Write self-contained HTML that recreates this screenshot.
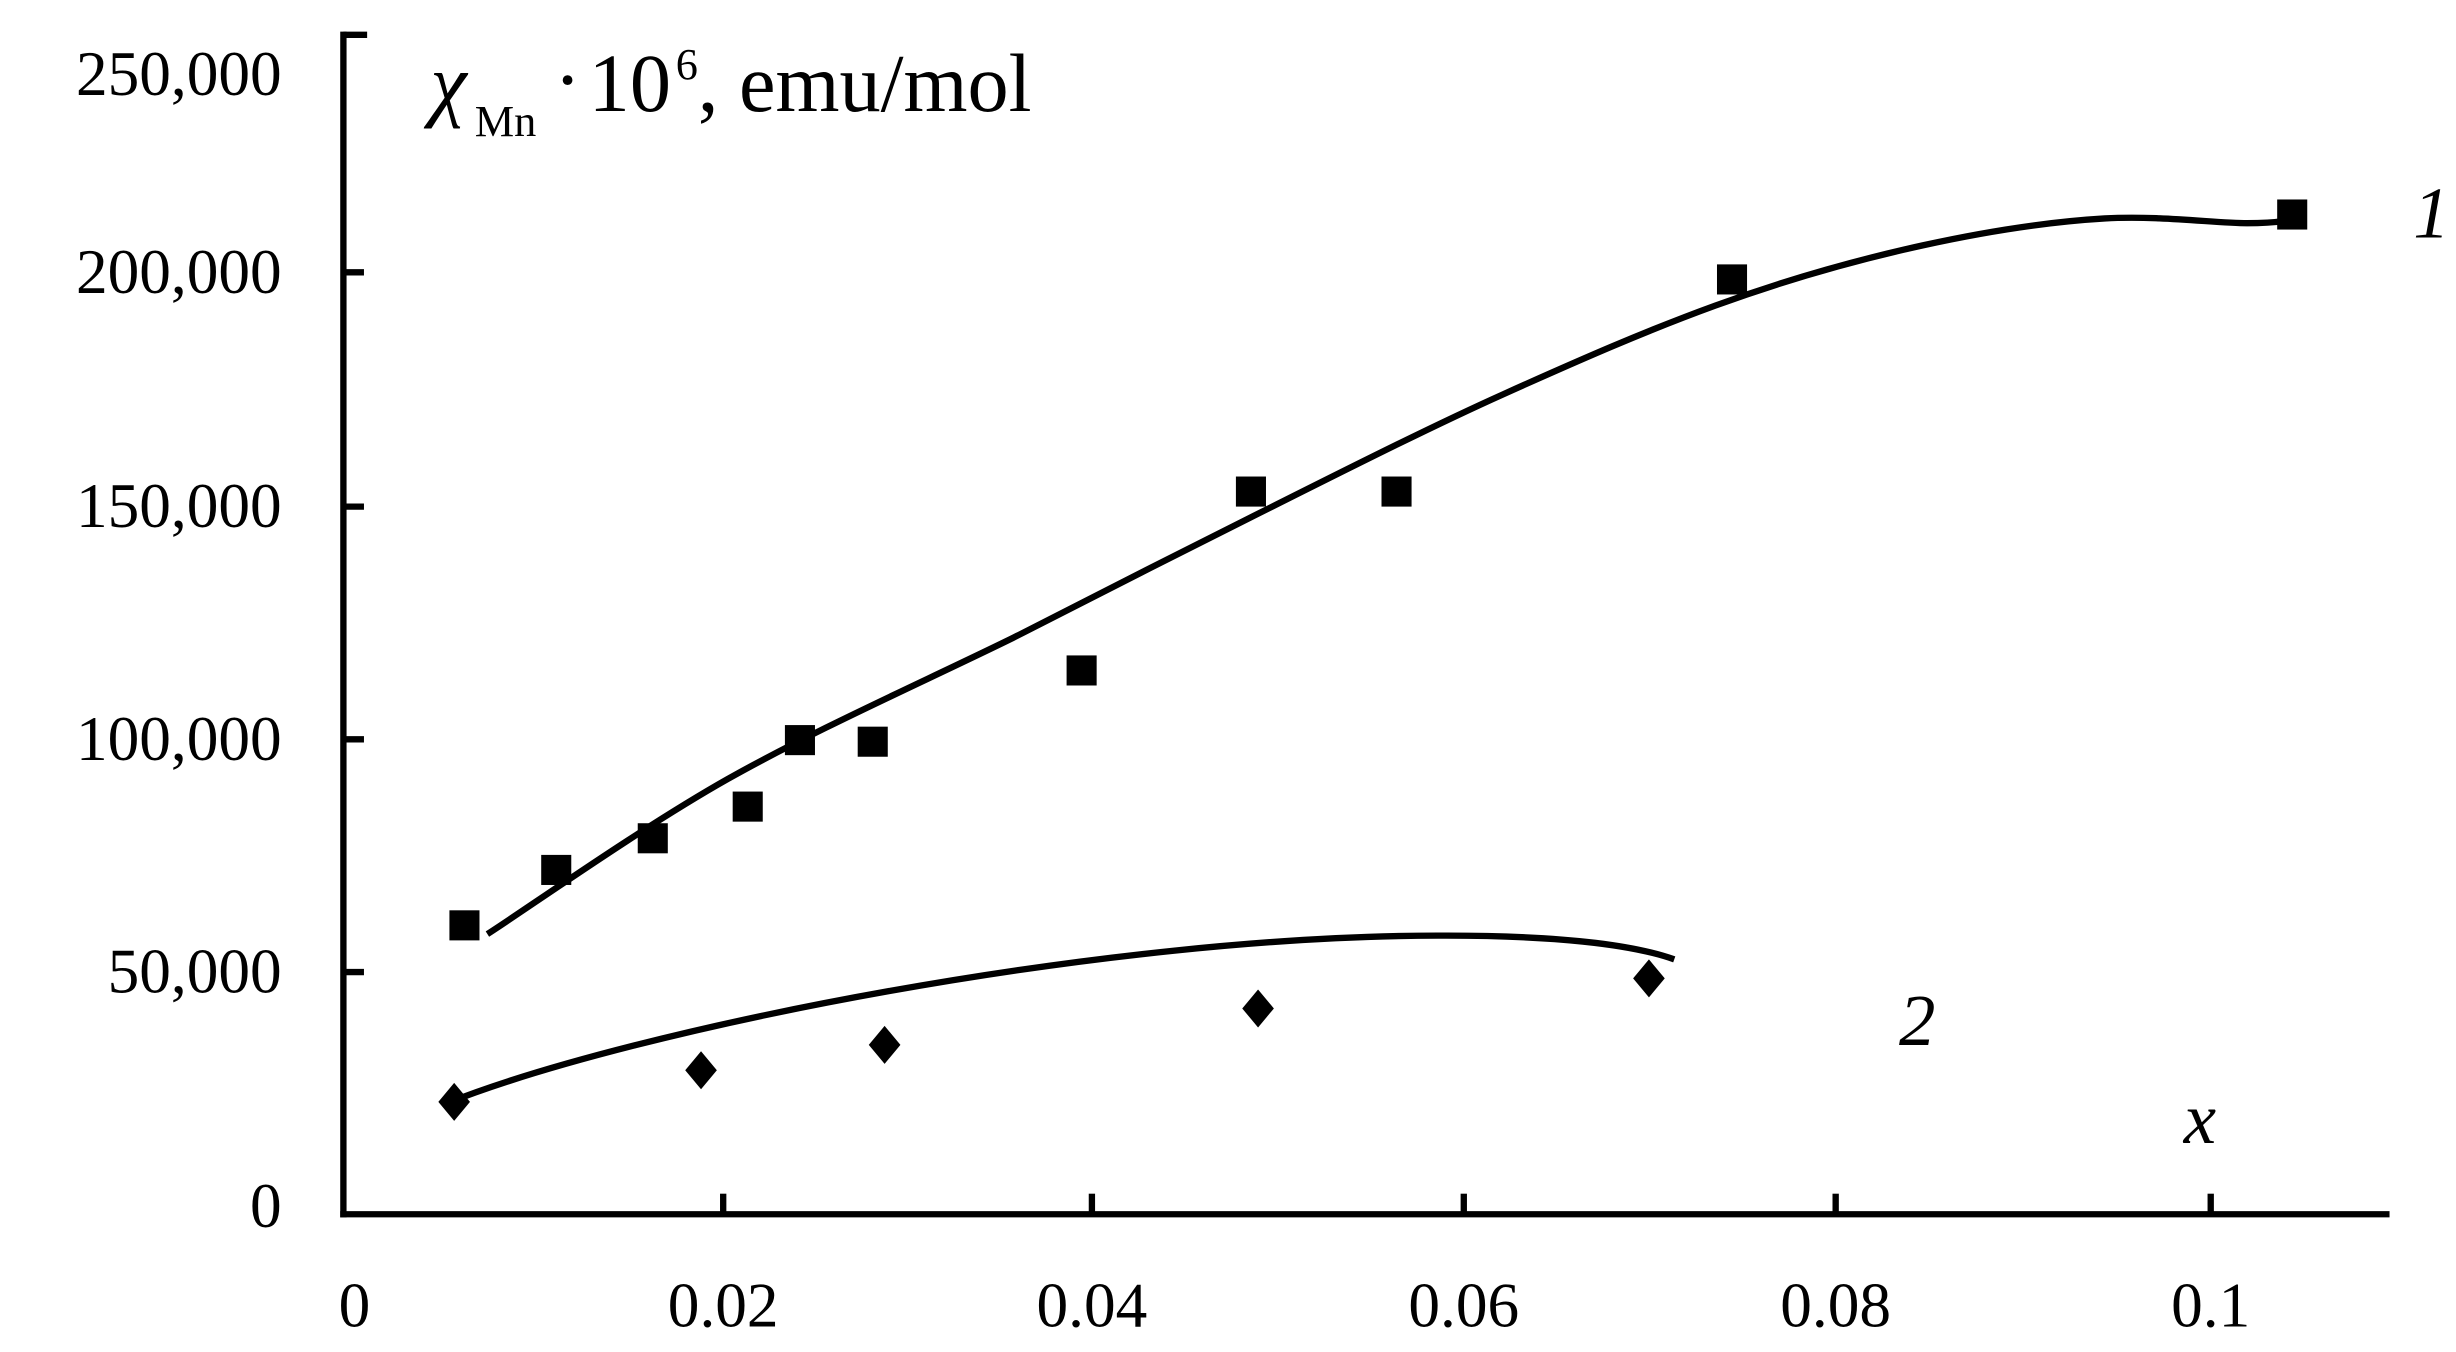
<!DOCTYPE html>
<html><head><meta charset="utf-8"><style>html,body{margin:0;padding:0;background:#fff;}svg{display:block}</style></head>
<body>
<svg width="2456" height="1352" viewBox="0 0 1552 854" preserveAspectRatio="none" xmlns="http://www.w3.org/2000/svg" font-family="Liberation Serif, serif">
<rect width="1552" height="854" fill="#fff"/>
<g stroke="#000" stroke-width="4" fill="none">
<line x1="217" y1="20" x2="217" y2="769"/>
<line x1="215" y1="767" x2="1510" y2="767"/>
<line x1="217" y1="22" x2="232" y2="22"/>
<line x1="217" y1="172" x2="230" y2="172"/>
<line x1="217" y1="320" x2="230" y2="320"/>
<line x1="217" y1="467" x2="230" y2="467"/>
<line x1="217" y1="614" x2="230" y2="614"/>
<line x1="457" y1="767" x2="457" y2="754"/>
<line x1="690" y1="767" x2="690" y2="754"/>
<line x1="925" y1="767" x2="925" y2="754"/>
<line x1="1160" y1="767" x2="1160" y2="754"/>
<line x1="1397" y1="767" x2="1397" y2="754"/>
</g>
<g font-size="40" fill="#000" text-anchor="end">
<text x="178" y="60">250,000</text>
<text x="178" y="185">200,000</text>
<text x="178" y="333">150,000</text>
<text x="178" y="480">100,000</text>
<text x="178" y="627">50,000</text>
<text x="178" y="775">0</text>
</g>
<g font-size="40" fill="#000" text-anchor="middle">
<text x="224" y="838">0</text>
<text x="457" y="838">0.02</text>
<text x="690" y="838">0.04</text>
<text x="925" y="838">0.06</text>
<text x="1160" y="838">0.08</text>
<text x="1397" y="838">0.1</text>
</g>
<text x="272" y="70" font-size="52" font-style="italic">χ</text>
<text x="300" y="86" font-size="28">Mn</text>
<text x="350" y="68" font-size="52">·</text>
<text x="372" y="70" font-size="52">10</text>
<text x="427" y="50" font-size="28">6</text>
<text x="441" y="70" font-size="52">, emu/mol</text>
<text x="1525" y="150" font-size="46" font-style="italic">1</text>
<text x="1200" y="660" font-size="46" font-style="italic">2</text>
<text x="1380" y="722" font-size="46" font-style="italic">x</text>
<g stroke="#000" stroke-width="4" fill="none" stroke-linejoin="round">
<path d="M308,590 C333,574 405,523 460,492 C515,461 585,430 640,403 C695,375 738,353 790,327 C842,301 901,271 950,249 C999,227 1040,209 1084,193 C1128,177 1174,164 1215,155 C1256,146 1296,140 1330,138 C1364,136 1400,141 1420,141 C1440,141 1445,139 1450,139"/>
<path d="M282,697 C400,650 700,590 914,591 C980,591 1030,596 1058,606"/>
</g>
<g fill="#000">
<rect x="284" y="575" width="19" height="19"/>
<rect x="342" y="540" width="19" height="19"/>
<rect x="403" y="520" width="19" height="19"/>
<rect x="463" y="500" width="19" height="19"/>
<rect x="496" y="458" width="19" height="19"/>
<rect x="542" y="459" width="19" height="19"/>
<rect x="674" y="414" width="19" height="19"/>
<rect x="781" y="301" width="19" height="19"/>
<rect x="873" y="301" width="19" height="19"/>
<rect x="1085" y="167" width="19" height="19"/>
<rect x="1439" y="126" width="19" height="19"/>
<path d="M287,684 l10,12 -10,12 -10,-12z"/>
<path d="M443,664 l10,12 -10,12 -10,-12z"/>
<path d="M559,648 l10,12 -10,12 -10,-12z"/>
<path d="M795,625 l10,12 -10,12 -10,-12z"/>
<path d="M1042,606 l10,12 -10,12 -10,-12z"/>
</g>
</svg>
</body></html>
